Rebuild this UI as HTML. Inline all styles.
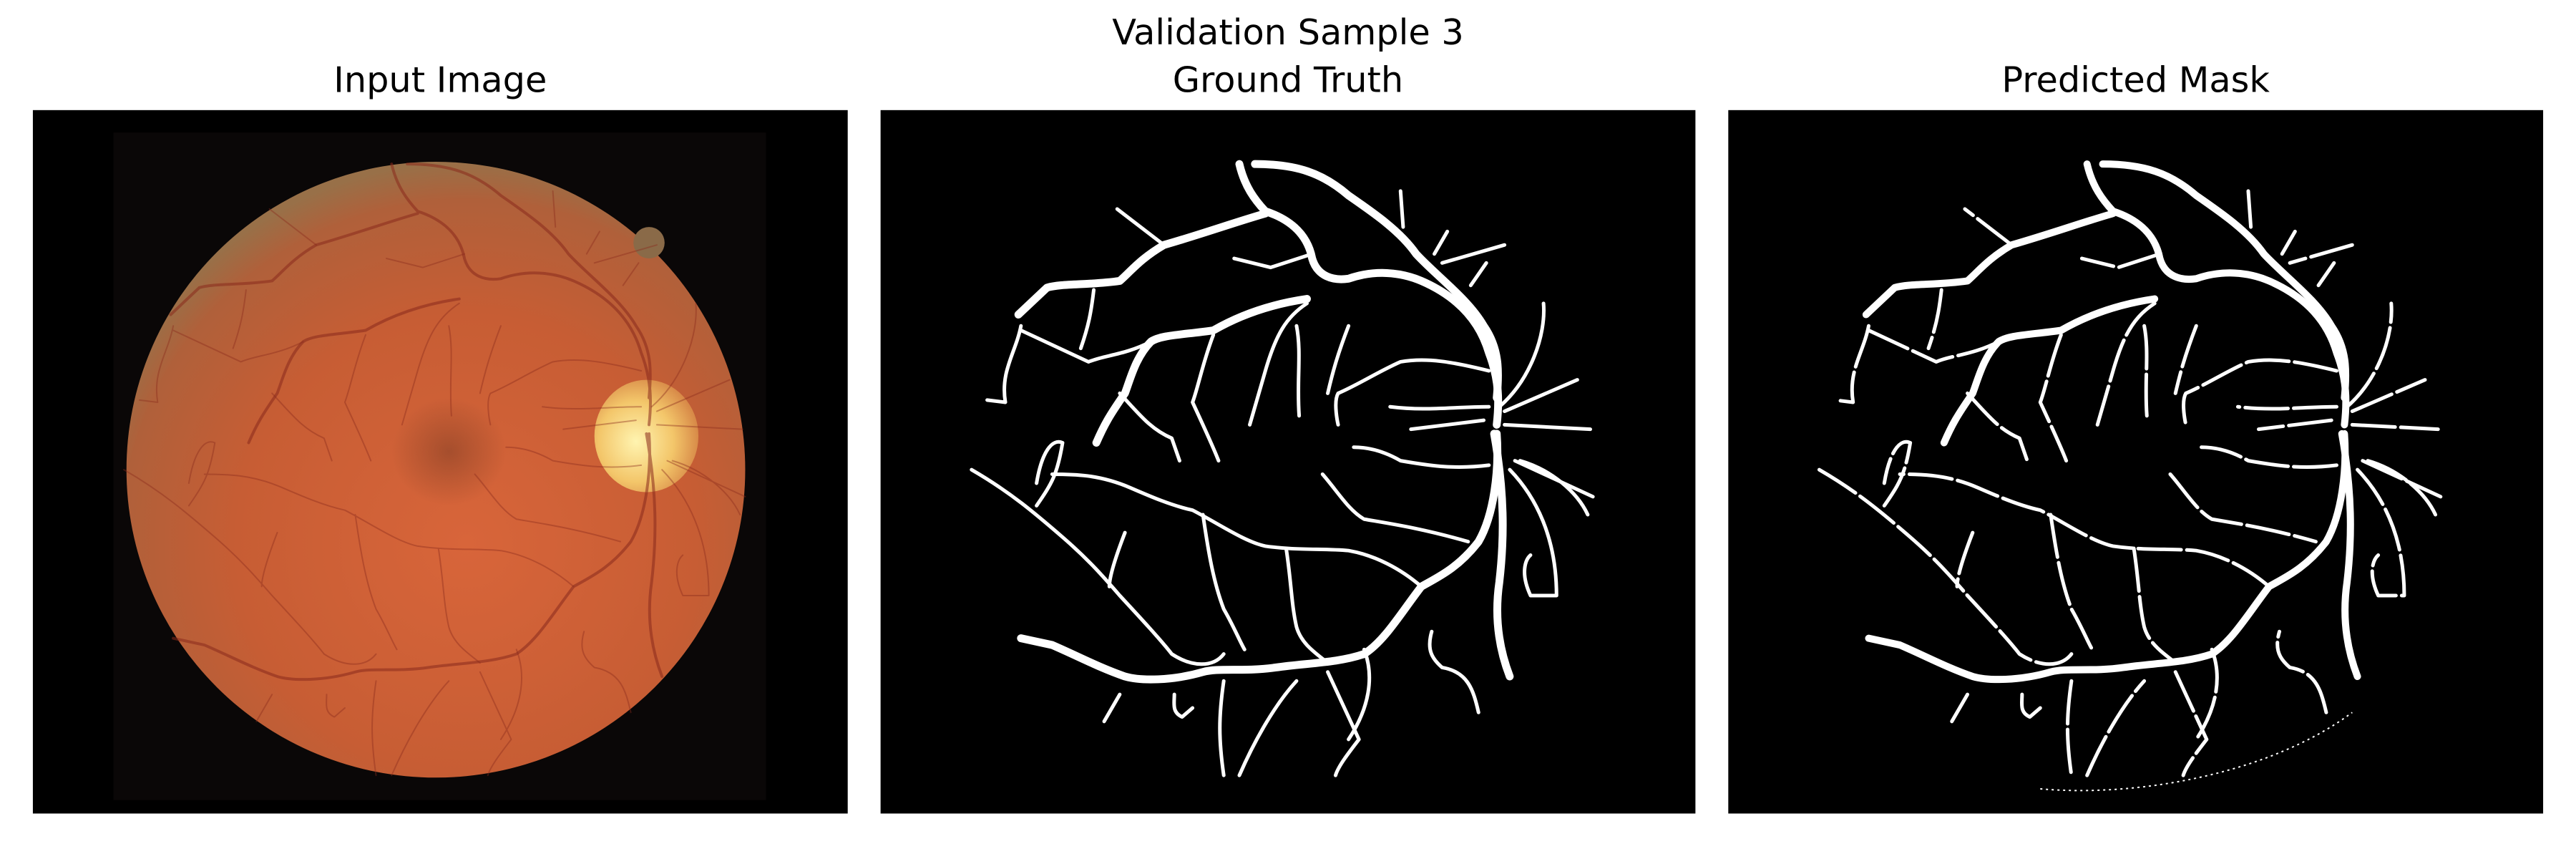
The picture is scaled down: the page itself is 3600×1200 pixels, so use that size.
<!DOCTYPE html>
<html><head><meta charset="utf-8"><style>
html,body{margin:0;padding:0;background:#fff;overflow:hidden;}
svg{display:block;}
</style></head><body>
<svg width="3600" height="1200" viewBox="0 0 1568 522.67" xmlns="http://www.w3.org/2000/svg">
<defs>
<radialGradient id="fg" cx="0.55" cy="0.62" r="0.62">
<stop offset="0" stop-color="#d8653a"/>
<stop offset="0.6" stop-color="#c75d34"/>
<stop offset="0.9" stop-color="#b0603a"/>
<stop offset="1" stop-color="#987048"/>
</radialGradient>
<radialGradient id="od" cx="0.4" cy="0.55" r="0.6">
<stop offset="0" stop-color="#fff4b0"/>
<stop offset="0.6" stop-color="#f3c66a"/>
<stop offset="1" stop-color="#d88a48"/>
</radialGradient>
<radialGradient id="mac" cx="0.5" cy="0.5" r="0.5">
<stop offset="0" stop-color="#7a3a22" stop-opacity="0.5"/>
<stop offset="1" stop-color="#7a3a22" stop-opacity="0"/>
</radialGradient>
<g id="vthick" fill="none" stroke-linecap="round" stroke-linejoin="round">
<path vector-effect="non-scaling-stroke" d="M690,120 C700,170 720,200 740,225 C780,240 820,270 830,330 C840,370 870,380 900,375 C950,355 1000,360 1040,380 C1100,410 1150,460 1170,540 C1190,600 1190,650 1185,700"/>
<path vector-effect="non-scaling-stroke" d="M720,120 C800,120 850,140 900,190 C950,230 1000,270 1030,320 C1070,370 1130,420 1160,480 C1190,530 1190,580 1185,640"/>
<path vector-effect="non-scaling-stroke" d="M1185,720 C1190,800 1180,900 1150,960 C1110,1020 1070,1040 1040,1060 C1000,1120 970,1180 930,1210 C880,1230 820,1230 760,1240 C700,1250 650,1240 620,1250 C560,1270 500,1270 470,1260 C420,1240 380,1215 330,1190 L270,1175"/>
<path vector-effect="non-scaling-stroke" d="M740,230 C680,250 620,275 545,300 C500,330 480,360 460,380 C400,390 350,385 320,395 L265,455"/>
<path vector-effect="non-scaling-stroke" d="M820,420 C760,430 700,450 640,490 C580,500 540,500 520,515 C490,550 480,600 470,630 C440,680 430,700 415,740"/>
<path vector-effect="non-scaling-stroke" d="M1180,720 C1200,850 1200,950 1190,1050 C1180,1130 1190,1200 1210,1260"/>
</g>
<g id="vthin" fill="none" stroke-linecap="round" stroke-linejoin="round">
<path vector-effect="non-scaling-stroke" d="M545,300 L455,220"/>
<path vector-effect="non-scaling-stroke" d="M520,515 C470,545 430,545 400,560 L270,490"/>
<path vector-effect="non-scaling-stroke" d="M1040,1060 C1000,1020 950,990 900,980 C850,975 800,980 740,970 C700,960 650,920 600,890 C560,880 520,860 480,840 C420,810 370,810 330,810"/>
<path vector-effect="non-scaling-stroke" d="M175,800 C250,850 300,900 350,950 C400,1000 430,1040 460,1080 C500,1130 540,1180 560,1210 C600,1240 640,1240 660,1210"/>
<path vector-effect="non-scaling-stroke" d="M780,975 C790,1050 790,1100 800,1150 C810,1190 840,1210 860,1230"/>
<path vector-effect="non-scaling-stroke" d="M620,900 C630,980 640,1050 660,1110 C680,1150 690,1180 700,1200"/>
<path vector-effect="non-scaling-stroke" d="M470,940 C450,1000 440,1040 440,1060"/>
<path vector-effect="non-scaling-stroke" d="M660,1270 C650,1350 650,1400 660,1480"/>
<path vector-effect="non-scaling-stroke" d="M690,1480 C720,1400 760,1320 800,1270"/>
<path vector-effect="non-scaling-stroke" d="M860,1250 C880,1300 900,1350 920,1400 C900,1430 880,1460 875,1480"/>
<path vector-effect="non-scaling-stroke" d="M1210,800 C1260,860 1300,950 1300,1080 L1250,1080 C1230,1030 1240,1000 1250,990"/>
<path vector-effect="non-scaling-stroke" d="M1190,660 C1250,600 1280,500 1275,430"/>
<path vector-effect="non-scaling-stroke" d="M1200,670 L1340,600"/><path vector-effect="non-scaling-stroke" d="M1200,700 L1365,710"/><path vector-effect="non-scaling-stroke" d="M1220,780 L1370,860"/>
<path vector-effect="non-scaling-stroke" d="M1230,780 C1290,800 1340,850 1360,900"/>
<path vector-effect="non-scaling-stroke" d="M1170,580 C1100,560 1050,550 1000,560 C960,580 920,610 880,630 C870,650 880,700 880,700"/>
<path vector-effect="non-scaling-stroke" d="M1170,660 C1100,660 1050,670 980,660"/><path vector-effect="non-scaling-stroke" d="M1160,690 L1020,710"/>
<path vector-effect="non-scaling-stroke" d="M1170,790 C1100,800 1050,790 1000,780 C970,760 940,750 910,750"/>
<path vector-effect="non-scaling-stroke" d="M850,810 C880,850 900,890 930,910 C980,920 1040,930 1130,960"/>
<path vector-effect="non-scaling-stroke" d="M820,430 C780,460 760,500 740,580 C730,620 720,660 710,700"/>
<path vector-effect="non-scaling-stroke" d="M640,500 C620,560 610,620 600,650 C620,700 640,750 650,780"/>
<path vector-effect="non-scaling-stroke" d="M830,320 L750,350 L680,330"/>
<path vector-effect="non-scaling-stroke" d="M1000,180 L1005,260"/><path vector-effect="non-scaling-stroke" d="M1090,270 L1065,320"/><path vector-effect="non-scaling-stroke" d="M1200,300 L1080,340"/><path vector-effect="non-scaling-stroke" d="M1165,340 L1135,390"/>
<path vector-effect="non-scaling-stroke" d="M460,630 C500,680 520,710 560,730 L575,780"/>
<path vector-effect="non-scaling-stroke" d="M300,880 C330,830 340,810 350,740 C330,730 310,760 300,830"/>
<path vector-effect="non-scaling-stroke" d="M1150,1340 C1140,1290 1130,1250 1080,1240 C1060,1220 1050,1200 1060,1160"/>
<path vector-effect="non-scaling-stroke" d="M930,1200 C950,1260 940,1330 900,1400"/>
<path vector-effect="non-scaling-stroke" d="M460,1300 L430,1360"/><path vector-effect="non-scaling-stroke" d="M600,1330 L580,1350 C560,1340 565,1320 565,1300"/>
<path vector-effect="non-scaling-stroke" d="M410,400 C405,450 400,480 385,530"/><path vector-effect="non-scaling-stroke" d="M270,480 C260,540 230,580 240,650 L205,645"/>
<path vector-effect="non-scaling-stroke" d="M800,480 C810,540 800,600 805,680"/><path vector-effect="non-scaling-stroke" d="M900,480 C880,540 870,580 860,630"/>
</g>
</defs>

<text x="784" y="27" text-anchor="middle" font-family="DejaVu Sans, sans-serif" font-size="21.5" fill="#000">Validation Sample 3</text>
<text x="268" y="56" text-anchor="middle" font-family="DejaVu Sans, sans-serif" font-size="21.5" fill="#000">Input Image</text>
<text x="784" y="56" text-anchor="middle" font-family="DejaVu Sans, sans-serif" font-size="21.5" fill="#000">Ground Truth</text>
<text x="1300" y="56" text-anchor="middle" font-family="DejaVu Sans, sans-serif" font-size="21.5" fill="#000">Predicted Mask</text>

<g transform="translate(20,67)">
<rect width="496" height="428" fill="#000"/>
<g transform="scale(0.3165,0.2735)">
<rect x="155" y="50" width="1255" height="1485" fill="#0a0707"/>
<ellipse cx="775" cy="800" rx="595" ry="685" fill="url(#fg)"/>
<ellipse cx="800" cy="760" rx="110" ry="120" fill="url(#mac)"/>
<ellipse cx="1185" cy="295" rx="30" ry="35" fill="#8a6a48"/>
<ellipse cx="1180" cy="725" rx="100" ry="125" fill="url(#od)"/>
<use href="#vthick" stroke="#8a2a1c" stroke-width="4" opacity="0.55"/>
<use href="#vthin" stroke="#8a2a1c" stroke-width="2" opacity="0.4"/>
</g>
</g>

<g transform="translate(536,67)">
<rect width="496" height="428" fill="#000"/>
<g transform="scale(0.3165,0.2735)">
<use href="#vthick" stroke="#fff" stroke-width="11"/>
<use href="#vthin" stroke="#fff" stroke-width="5"/>
</g>
</g>

<g transform="translate(1052,67)">
<rect width="496" height="428" fill="#000"/>
<g transform="scale(0.3165,0.2735)">
<use href="#vthick" stroke="#fff" stroke-width="10"/>
<use href="#vthin" stroke="#fff" stroke-width="5" stroke-dasharray="60 8"/>
<path vector-effect="non-scaling-stroke" d="M600,1510 C800,1530 1050,1470 1200,1340" fill="none" stroke="#fff" stroke-width="2" stroke-dasharray="3 5"/>
</g>
</g>
</svg>
</body></html>
